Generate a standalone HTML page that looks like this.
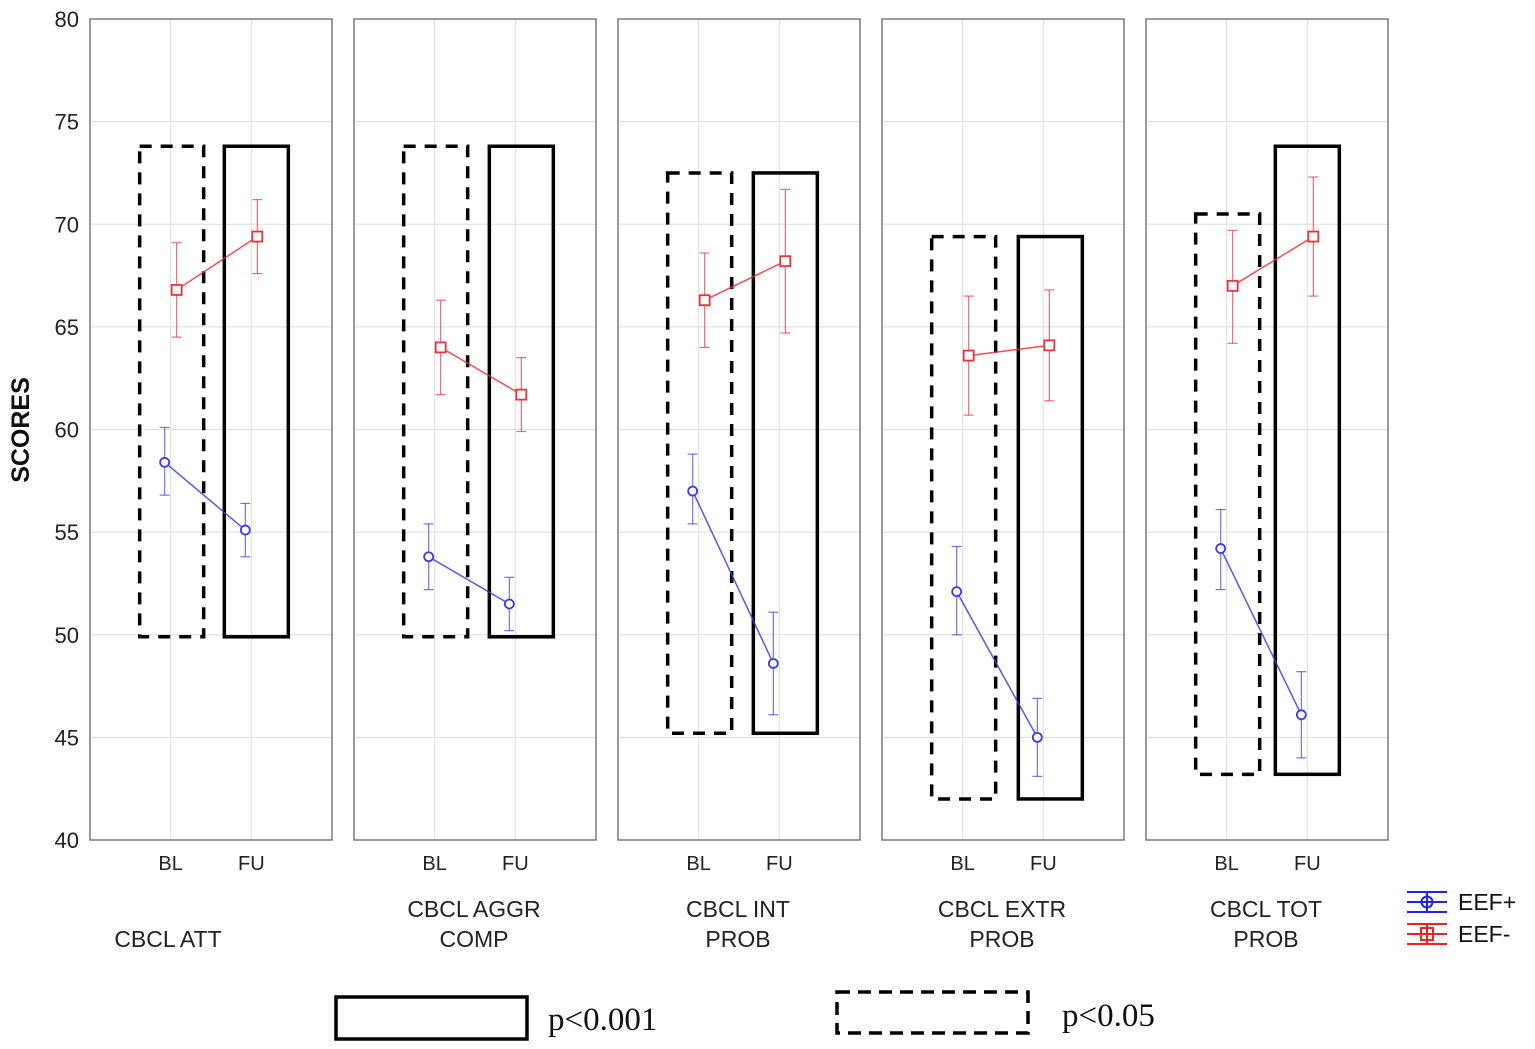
<!DOCTYPE html>
<html><head><meta charset="utf-8"><style>
body{margin:0;background:#fff;width:1535px;height:1049px;overflow:hidden}
svg{display:block}
text{font-family:"Liberation Sans",sans-serif}
text.serif{font-family:"Liberation Serif",serif}
</style></head><body>
<svg id="chart" width="1535" height="1049" xmlns="http://www.w3.org/2000/svg"></svg>
<script>
const panels=["CBCL ATT","CBCL AGGR COMP","CBCL INT PROB","CBCL EXTR PROB","CBCL TOT PROB"];
const panelLabels=[["CBCL ATT"],["CBCL AGGR","COMP"],["CBCL INT","PROB"],["CBCL EXTR","PROB"],["CBCL TOT","PROB"]];
const times=["BL","FU"];
const yTicks=[40,45,50,55,60,65,70,75,80];
const eefMinusMean=[[66.8,69.4],[64.0,61.7],[66.3,68.2],[63.6,64.1],[67.0,69.4]];
const eefMinusLo=[[64.5,67.6],[61.7,59.9],[64.0,64.7],[60.7,61.4],[64.2,66.5]];
const eefMinusHi=[[69.1,71.2],[66.3,63.5],[68.6,71.7],[66.5,66.8],[69.7,72.3]];
const eefPlusMean=[[58.4,55.1],[53.8,51.5],[57.0,48.6],[52.1,45.0],[54.2,46.1]];
const eefPlusLo=[[56.8,53.8],[52.2,50.2],[55.4,46.1],[50.0,43.1],[52.2,44.0]];
const eefPlusHi=[[60.1,56.4],[55.4,52.8],[58.8,51.1],[54.3,46.9],[56.1,48.2]];
const blBoxTop=[73.8,73.8,72.5,69.4,70.5];
const blBoxBottom=[49.9,49.9,45.2,42.0,43.2];
const fuBoxTop=[73.8,73.8,72.5,69.4,73.8];
const fuBoxBottom=[49.9,49.9,45.2,42.0,43.2];

const svg=document.getElementById('chart');
const NS="http://www.w3.org/2000/svg";
const top0=19,bot0=840,pw=242,pstep=264,px0=90;
const fuShift=[5,6,6,7,0];
const y=v=>bot0-(v-40)*(bot0-top0)/40;
const px=i=>px0+i*pstep;
const x=(i,t)=>px(i)+pw*(t+1)/3;
function el(tag,attrs,parent){const e=document.createElementNS(NS,tag);for(const k in attrs)e.setAttribute(k,attrs[k]);(parent||svg).appendChild(e);return e;}
function txt(s,attrs,parent){const e=el('text',attrs,parent);e.textContent=s;return e;}

yTicks.forEach(v=>{const t=txt(String(v),{x:79,y:y(v)+8,'text-anchor':'end','font-size':22,fill:'#222'});

});
const yt=txt('SCORES',{x:0,y:0,transform:'translate(29,430) rotate(-90)','text-anchor':'middle','font-size':25,'font-weight':'bold',fill:'#111'});



panels.forEach((p,i)=>{
  const g=el('g',{});
  
  
  yTicks.forEach(v=>el('line',{x1:px(i),x2:px(i)+pw,y1:y(v),y2:y(v),stroke:'#ddd','stroke-width':1},g));
  times.forEach((t,k)=>{el('line',{x1:x(i,k),x2:x(i,k),y1:top0,y2:bot0,stroke:'#ddd','stroke-width':1},g);
    txt(t,{x:x(i,k),y:870,'text-anchor':'middle','font-size':20,fill:'#222'},g);});
  el('rect',{x:px(i),y:top0,width:pw,height:bot0-top0,fill:'none',stroke:'#666','stroke-width':1.3},g);
  const hw=32;
  const bb=el('rect',{x:x(i,0)-hw+1,y:y(blBoxTop[i]),width:hw*2,height:y(blBoxBottom[i])-y(blBoxTop[i]),fill:'none',stroke:'#000','stroke-width':3.5,'stroke-dasharray':'12,9'},g);
  
  
  const fb=el('rect',{x:x(i,1)-hw+fuShift[i],y:y(fuBoxTop[i]),width:hw*2,height:y(fuBoxBottom[i])-y(fuBoxTop[i]),fill:'none',stroke:'#000','stroke-width':3.5},g);
  
  
  [[eefMinusMean,eefMinusLo,eefMinusHi,'#e8323c','sq',6],[eefPlusMean,eefPlusLo,eefPlusHi,'#3b3be8','ci',-6]].forEach(([m,lo,hi,c,sh,dx])=>{
    const ln=el('line',{x1:x(i,0)+dx,y1:y(m[i][0]),x2:x(i,1)+dx,y2:y(m[i][1]),stroke:c,'stroke-width':1.5,opacity:0.85},g);
    
    
    [0,1].forEach(k=>{
      const cx=x(i,k)+dx;
      el('line',{x1:cx,x2:cx,y1:y(lo[i][k]),y2:y(hi[i][k]),stroke:c,'stroke-width':1.2,opacity:0.7},g);
      el('line',{x1:cx-5,x2:cx+5,y1:y(lo[i][k]),y2:y(lo[i][k]),stroke:c,'stroke-width':1.2,opacity:0.7},g);
      el('line',{x1:cx-5,x2:cx+5,y1:y(hi[i][k]),y2:y(hi[i][k]),stroke:c,'stroke-width':1.2,opacity:0.7},g);
      let mk;
      if(sh==='sq') mk=el('rect',{x:cx-5,y:y(m[i][k])-5,width:10,height:10,fill:'#fff',stroke:c,'stroke-width':1.8},g);
      else mk=el('circle',{cx:cx,cy:y(m[i][k]),r:4.5,fill:'#fff',stroke:c,'stroke-width':1.8},g);
      
      
    });
  });
  const lab=panelLabels[i];
  const ly=lab.length===1?[947]:[917,947];
  lab.forEach((s,k)=>{const t=txt(s,{x:i===0?168:px(i)+120,y:ly[k],'text-anchor':'middle','font-size':23,fill:'#222'},g);
    
    });
});

const lg=el('g',{});


[['EEF+','#2222ee',902,'ci'],['EEF-','#ee2222',934,'sq']].forEach(([s,c,cy,sh])=>{
  el('line',{x1:1407,x2:1447,y1:cy-10,y2:cy-10,stroke:c,'stroke-width':2},lg);
  el('line',{x1:1407,x2:1447,y1:cy,y2:cy,stroke:c,'stroke-width':2},lg);
  el('line',{x1:1407,x2:1447,y1:cy+10,y2:cy+10,stroke:c,'stroke-width':2},lg);
  el('line',{x1:1427,x2:1427,y1:cy-10,y2:cy+10,stroke:c,'stroke-width':2},lg);
  if(sh==='ci')el('circle',{cx:1427,cy:cy,r:5.5,fill:'none',stroke:c,'stroke-width':2},lg);
  else el('rect',{x:1421,y:cy-6,width:12,height:12,fill:'none',stroke:c,'stroke-width':2},lg);
  const t=txt(s,{x:1458,y:cy+8,'font-size':23,fill:'#111'},lg);
  
  
});
const k1=el('rect',{x:336,y:997,width:191,height:42,fill:'none',stroke:'#000','stroke-width':3.5});


const k1t=txt('p<0.001',{x:548,y:1030,'font-size':33,fill:'#111','class':'serif'});


const k2=el('rect',{x:837,y:992,width:191,height:41,fill:'none',stroke:'#000','stroke-width':3.5,'stroke-dasharray':'13,8'});


const k2t=txt('p<0.05',{x:1062,y:1026,'font-size':33,fill:'#111','class':'serif'});


</script>
</body></html>
